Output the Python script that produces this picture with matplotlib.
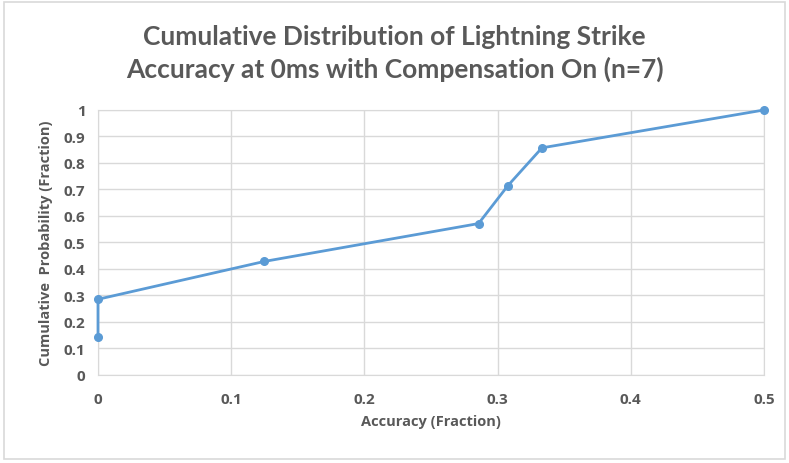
import matplotlib
matplotlib.use("Agg")
import matplotlib.pyplot as plt
from matplotlib.patches import Rectangle

# CDF of strike accuracy, 7 trials
accuracy = [0.0, 0.0, 0.125, 0.2857, 0.3077, 0.3333, 0.5]
cum_prob = [0.1429, 0.2857, 0.4286, 0.5714, 0.7143, 0.8571, 1.0]
x_ticks = [0, 0.1, 0.2, 0.3, 0.4, 0.5]
y_ticks = [0, 0.1, 0.2, 0.3, 0.4, 0.5, 0.6, 0.7, 0.8, 0.9, 1]

plt.rcParams['font.family'] = ['Open Sans', 'DejaVu Sans']
txt = '#595959'

fig = plt.figure(figsize=(7.89, 4.64), dpi=100)
fig.patches.append(Rectangle((0.005, 0.008), 0.99, 0.985, transform=fig.transFigure,
                             fill=False, edgecolor='#d9d9d9', linewidth=1.2))

ax = fig.add_axes([0.1242, 0.1897, 0.8441, 0.5711])
ax.plot(accuracy, cum_prob, color='#5B9BD5', linewidth=2, marker='o', markersize=5.5,
        clip_on=False, zorder=3)

ax.set_xlim(0, 0.5)
ax.set_ylim(0, 1)
ax.set_xticks(x_ticks)
ax.set_yticks(y_ticks)
ax.set_xticklabels([f'{t:g}' for t in x_ticks])
ax.set_yticklabels([f'{t:g}' for t in y_ticks])
ax.grid(True, color='#d9d9d9', linewidth=1)
ax.set_axisbelow(True)
for s in ax.spines.values():
    s.set_color('#d9d9d9')
ax.tick_params(length=0, colors=txt, labelsize=11, pad=9)
ax.tick_params(axis='x', pad=12)
for lab in ax.get_xticklabels() + ax.get_yticklabels():
    lab.set_fontweight('bold')

ax.set_xlabel('Accuracy (Fraction)', fontsize=10.5, fontweight='bold', color=txt, labelpad=6)
ax.set_ylabel('Cumulative  Probability (Fraction)', fontsize=10.5, fontweight='bold',
              color=txt, labelpad=8)

fig.text(0.5, 0.885, 'Cumulative Distribution of Lightning Strike\nAccuracy at 0ms with Compensation On (n=7)',
         ha='center', va='center', fontsize=19, fontweight='bold', color=txt, linespacing=1.35,
         family=['Lato', 'DejaVu Sans'])

fig.savefig('out.png', dpi=100)
